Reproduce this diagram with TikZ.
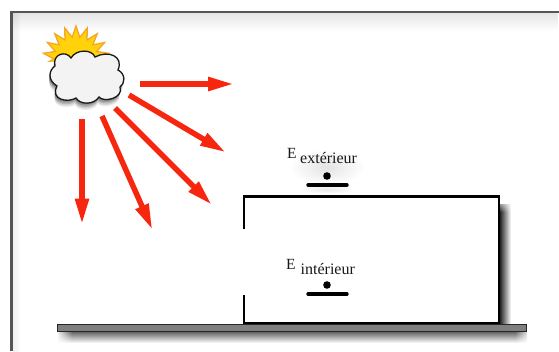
\documentclass[tikz,border=0pt]{standalone}
\usepackage{fontspec}
\setmainfont{Liberation Serif}
\usetikzlibrary{arrows.meta,shapes.geometric,fadings}
\definecolor{ray}{HTML}{F7260F}
\definecolor{frameline}{HTML}{555555}
\definecolor{groundfill}{HTML}{7F7F7F}
\definecolor{sunfill}{HTML}{FFD20A}
\definecolor{sunline}{HTML}{F5A52A}
\definecolor{cloudfill}{HTML}{F3F3F3}
\newcommand{\cloudpath}{(55,66) .. controls (52,54) and (66,50) .. (71,58)
  .. controls (76,49) and (92,49) .. (95,57)
  .. controls (108,50) and (124,56) .. (118,70)
  .. controls (126,74) and (125,84) .. (120,87)
  .. controls (124,98) and (104,103) .. (99,97)
  .. controls (94,105) and (80,105) .. (76,98)
  .. controls (68,103) and (50,100) .. (57,86)
  .. controls (47,80) and (49,70) .. (55,66) -- cycle}
\tikzset{
  rayarrow/.style={draw=ray,line width=5.5pt,-{Triangle[length=26pt,width=13pt]}},
  wall/.style={draw=black,line width=2.6pt},
  sensorbar/.style={draw=black,line width=3.4pt,line cap=round},
  sensordot/.style={circle,fill=black,minimum size=7.6pt,inner sep=0pt},
  letterE/.style={font=\fontsize{15.5}{15.5}\selectfont,text=black!90,inner sep=0pt,anchor=base west},
  sublabel/.style={font=\fontsize{16}{16}\selectfont,text=black!90,inner sep=0pt,anchor=base west},
}
\begin{document}
\begin{tikzpicture}[x=1pt,y=-1pt]
\useasboundingbox (0,0) rectangle (559,351);
\fill[white] (0,0) rectangle (559,351);
% frame with soft inner shadow
\shade[left color=black!6,right color=white] (13,13) rectangle (21,351);
\fill[black,opacity=.1,path fading=south] (12,13) rectangle (559,31);
\draw[frameline,line width=2.2pt] (11.5,351) -- (11.5,11.7) -- (559,11.7);
% ground shadow
\shade[top color=black!65,bottom color=white] (58,331) rectangle (527,343);
\fill[white,path fading=east] (56,331) rectangle (72,344);
\fill[white,path fading=west] (515,331) rectangle (530,344);
% building shadow
\shade[left color=black!85,right color=white] (500,204) rectangle (511,324);
\fill[white,path fading=south] (500,197) rectangle (513,212);
% sensor glow
\shade[inner color=black!11,outer color=white] (327,167) ellipse [x radius=38,y radius=18];
\shade[inner color=black!9,outer color=white] (327,189) ellipse [x radius=28,y radius=5];
% ground
\node[draw=black!85,fill=groundfill,line width=1.4pt,minimum width=469pt,minimum height=7pt,inner sep=0pt] (ground) at (292,327.7) {};
% sun, only the part above the cloud shows
\begin{scope}
\clip (40,20) rectangle (115,61);
\node[star,star points=18,star point ratio=1.5,minimum size=66pt,inner sep=0pt,draw=sunline,fill=sunfill,line width=1.3pt] (sun) at (76,59) {};
\end{scope}
\foreach \o/\a in {1/.12,2.5/.16,4/.14,5.5/.10,7/.07}
  \fill[black,opacity=\a,shift={(-1,\o)}] \cloudpath;
\draw[black!90,fill=cloudfill,line width=1.3pt] \cloudpath;
% rays
\coordinate (r1a) at (139.5,84); \coordinate (r1b) at (234,84);
\coordinate (r2a) at (129,95);   \coordinate (r2b) at (226,152.5);
\coordinate (r3a) at (115,108);  \coordinate (r3b) at (212,205);
\coordinate (r4a) at (102,116);  \coordinate (r4b) at (152.5,230);
\coordinate (r5a) at (82,119);   \coordinate (r5b) at (82,224.5);
\foreach \n in {1,...,5} \draw[rayarrow] (r\n a) -- (r\n b);
% building
\coordinate (w1) at (244,229); \coordinate (w2) at (244,196.3);
\coordinate (w3) at (499,196.3); \coordinate (w4) at (499,323);
\coordinate (w5) at (244,323); \coordinate (w6) at (244,295);
\draw[wall] (w1) -- (w2) -- (w3) -- (w4) -- (w5) -- (w6);
% exterior sensor
\node[sensordot] (dotext) at (327,176) {};
\coordinate (be1) at (308,185); \coordinate (be2) at (347,185);
\draw[sensorbar] (be1) -- (be2);
\node[letterE] (Eext) at (287,158) {E};
\node[sublabel] (subext) at (300,163) {extérieur};
% interior sensor
\node[sensordot] (dotint) at (327,285) {};
\coordinate (bi1) at (308,294); \coordinate (bi2) at (347,294);
\draw[sensorbar] (bi1) -- (bi2);
\node[letterE] (Eint) at (286,269) {E};
\node[sublabel] (subint) at (300.5,274) {intérieur};
\end{tikzpicture}
\end{document}
